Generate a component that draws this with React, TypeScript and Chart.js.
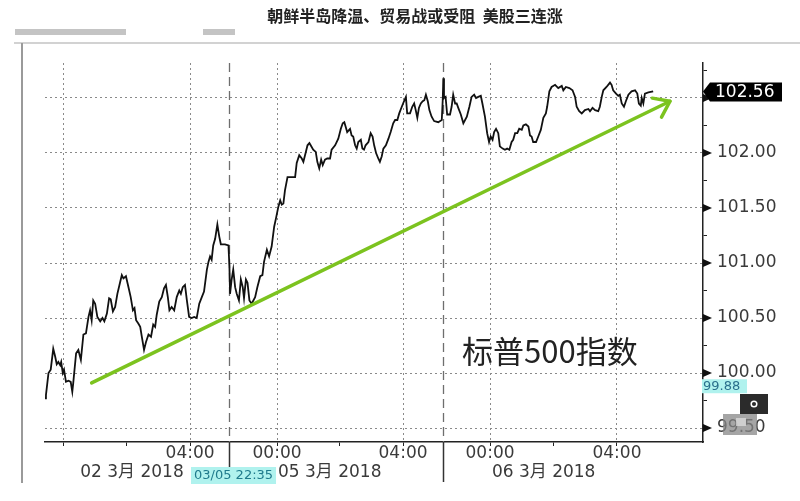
import React, { useEffect, useRef } from "react";
import { Chart, registerables } from "chart.js";

Chart.register(...registerables);

// ---------- text ----------
const TITLE = "朝鲜半岛降温、贸易战或受阻  美股三连涨";
const INDEX_NAME = "标普500指数";
const CURSOR_TIME = "03/05 22:35";

// ---------- data (x = session hours from 02 Mar 00:00, y = index level) ----------
const timesA = [-0.57,-0.54,-0.46,-0.39,-0.31,-0.25,-0.20,-0.15,-0.09,-0.06,-0.01,0.03,0.09,0.17,0.24,0.29,0.32,0.41,0.48,0.56,0.64,0.72,0.80,0.85,0.90,0.95,1.01,1.08,1.17,1.24,1.30,1.38,1.45,1.50,1.57,1.64,1.71,1.80,1.85,1.90,1.98,2.06,2.13,2.20,2.25,2.30,2.37,2.43,2.48,2.55,2.61,2.69,2.77,2.84,2.90,2.95,3.03,3.11,3.18,3.24,3.30,3.35,3.42,3.50,3.58,3.66];
const valuesA = [99.77,99.80,100.00,100.03,100.22,100.15,100.08,100.10,100.07,100.10,100.00,100.03,99.92,99.93,99.92,99.83,99.91,100.18,100.21,100.12,100.35,100.36,100.51,100.57,100.48,100.66,100.63,100.51,100.47,100.50,100.47,100.54,100.68,100.67,100.56,100.60,100.72,100.83,100.89,100.86,100.88,100.78,100.69,100.57,100.59,100.48,100.45,100.42,100.33,100.21,100.28,100.35,100.33,100.44,100.42,100.53,100.65,100.69,100.77,100.80,100.69,100.57,100.60,100.57,100.69,100.75];

const timesB = [3.71,3.77,3.84,3.90,3.97,4.05,4.13,4.21,4.29,4.37,4.44,4.53,4.58,4.63,4.68,4.73,4.79,4.86,4.92,4.97,5.10,5.21,5.24,5.26,5.31,5.36,5.42,5.47,5.54,5.60,5.66,5.70,5.76,5.81,5.87,5.94,6.05,6.12,6.21,6.28,6.33,6.42,6.49,6.57,6.65,6.71,6.78,6.84,6.89,6.94,6.99,7.07,7.17,7.31,7.36,7.44,7.52,7.57,7.64,7.70,7.76];
const valuesB = [100.72,100.78,100.80,100.66,100.51,100.50,100.51,100.50,100.63,100.69,100.74,100.94,101.01,101.06,101.03,101.16,101.22,101.35,101.24,101.17,101.17,101.16,100.97,100.72,100.85,100.94,100.78,100.72,100.66,100.85,100.78,100.68,100.85,100.82,100.66,100.63,100.69,100.78,100.88,100.89,101.01,101.12,101.06,101.15,101.33,101.41,101.51,101.57,101.53,101.54,101.66,101.78,101.78,101.78,101.91,101.98,101.95,101.92,102.00,102.07,102.09];

const timesC = [7.80,7.88,7.96,8.01,8.07,8.13,8.18,8.25,8.32,8.41,8.46,8.57,8.67,8.75,8.81,8.86,8.90,8.95,9.04,9.09,9.14,9.20,9.25,9.30,9.38,9.43,9.48,9.53,9.62,9.69,9.75,9.80,9.86,9.93,9.98,10.04,10.09,10.17,10.25,10.32,10.40,10.46,10.53,10.59,10.67,10.74,10.80,10.84,10.93,11.00,11.06,11.11,11.16,11.21,11.27,11.33,11.38,11.43,11.49,11.54,11.61,11.69,11.82];
const valuesC = [102.07,102.03,102.01,101.92,101.86,101.94,101.89,101.94,101.95,101.95,102.03,102.07,102.13,102.22,102.27,102.28,102.24,102.19,102.22,102.16,102.15,102.07,102.04,102.10,102.12,102.04,102.03,102.07,102.10,102.18,102.15,102.07,102.00,101.95,101.92,101.97,102.04,102.07,102.13,102.19,102.27,102.30,102.30,102.36,102.42,102.47,102.51,102.36,102.36,102.42,102.45,102.39,102.32,102.41,102.45,102.47,102.48,102.53,102.47,102.39,102.33,102.29,102.28];

const timesD = [11.93,11.96,11.98,12.00,12.05,12.10,12.19,12.24,12.29,12.35,12.40,12.45,12.53,12.61,12.72,12.80,12.87,12.95,13.01,13.08,13.16,13.21,13.29,13.36,13.42,13.47,13.53,13.58,13.64,13.71,13.76,13.85,13.92,13.99,14.06,14.13,14.18,14.24,14.31,14.37,14.45,14.50,14.58,14.66,14.71,14.76,14.81,14.90,14.97,15.05,15.13,15.21,15.25,15.32,15.39,15.50,15.60,15.71,15.76,15.84,15.95,16.05,16.13,16.18,16.26,16.34,16.44,16.55,16.60,16.68,16.76,16.86,16.91,16.97,17.02,17.12,17.23,17.28,17.33,17.42,17.49,17.54,17.60,17.67,17.73,17.81,17.91,18.02,18.09,18.14,18.20,18.23,18.28,18.33,18.44,18.59];
const valuesD = [102.30,102.48,102.68,102.50,102.51,102.35,102.35,102.42,102.53,102.45,102.45,102.41,102.35,102.27,102.33,102.42,102.51,102.53,102.50,102.51,102.52,102.45,102.33,102.18,102.10,102.15,102.12,102.19,102.22,102.18,102.06,102.04,102.03,102.04,102.03,102.10,102.12,102.18,102.18,102.22,102.21,102.25,102.26,102.24,102.16,102.15,102.10,102.10,102.15,102.21,102.32,102.36,102.42,102.56,102.60,102.62,102.59,102.61,102.57,102.60,102.59,102.57,102.51,102.42,102.38,102.36,102.39,102.40,102.38,102.41,102.39,102.38,102.42,102.51,102.57,102.60,102.64,102.62,102.57,102.54,102.52,102.53,102.45,102.42,102.47,102.53,102.56,102.57,102.54,102.45,102.43,102.50,102.45,102.54,102.55,102.56];

// trend arrow
const trendTimes = [0.90, 19.12];
const trendValues = [99.91, 102.47];

// axes
const xTickValues = [0, 2, 4, 6.74, 8.72, 10.71, 13.45, 15.45, 17.45];
const xTickLabels = ["", "", "04:00", "00:00", "", "04:00", "00:00", "", "04:00"];
const xGridTicks = [0, 4, 6.74, 10.71, 13.45, 17.45];
const sessionBreaks = [5.24, 11.98];
const dateLabels = ["02 3月 2018", "05 3月 2018", "06 3月 2018"];
const dateLabelAt = [0.54, 6.77, 13.51];
const yTickValues = [99.5, 99.75, 100, 100.25, 100.5, 100.75, 101, 101.25, 101.5, 101.75, 102, 102.25, 102.5, 102.75];
const X_MIN = -0.57, X_MAX = 20.16, Y_MIN = 99.373, Y_MAX = 102.818;
const cursorValue = 99.88;
const cursorTimeAt = 4.03;
const annotationAt = { x: 12.57, y: 100.2 };

const FONT = '"DejaVu Sans", "Noto Sans CJK SC", sans-serif';
const CJK = '"Noto Sans CJK SC", sans-serif';
const TEXT = "#3a3a3a";
const CYAN = "#b0f2ee";

const allTimes = [...timesA, ...timesB, ...timesC, ...timesD];
const allValues = [...valuesA, ...valuesB, ...valuesC, ...valuesD];
const lastValue = allValues[allValues.length - 1];

const isMajor = (v: number) => Math.abs(v * 2 - Math.round(v * 2)) < 1e-6;

const overlay = {
  id: "overlay",
  beforeDatasetsDraw(chart: any) {
    const { ctx, chartArea, scales } = chart;
    const x = scales.x;
    ctx.save();
    sessionBreaks.forEach((b) => {
      const px = Math.round(x.getPixelForValue(b)) + 0.5;
      ctx.strokeStyle = "#6e6e6e";
      ctx.lineWidth = 1.3;
      ctx.setLineDash([9, 5]);
      ctx.beginPath();
      ctx.moveTo(px, chartArea.top);
      ctx.lineTo(px, chartArea.bottom);
      ctx.stroke();
      ctx.setLineDash([]);
      ctx.strokeStyle = "#333";
      ctx.lineWidth = 1.5;
      ctx.beginPath();
      ctx.moveTo(px, chartArea.bottom);
      ctx.lineTo(px, chartArea.bottom + 40);
      ctx.stroke();
    });
    ctx.restore();
  },
  afterDatasetsDraw(chart: any) {
    const { ctx } = chart;
    const meta = chart.getDatasetMeta(0);
    const p0 = meta.data[0], p1 = meta.data[1];
    const ang = Math.atan2(p1.y - p0.y, p1.x - p0.x);
    const len = 18, spread = (36 * Math.PI) / 180;
    ctx.save();
    ctx.strokeStyle = "#7cc31f";
    ctx.lineWidth = 3.5;
    ctx.lineCap = "round";
    ctx.lineJoin = "round";
    ctx.beginPath();
    ctx.moveTo(p1.x - len * Math.cos(ang - spread), p1.y - len * Math.sin(ang - spread));
    ctx.lineTo(p1.x, p1.y);
    ctx.lineTo(p1.x - len * Math.cos(ang + spread), p1.y - len * Math.sin(ang + spread));
    ctx.stroke();
    ctx.restore();
  },
  afterDraw(chart: any) {
    const { ctx, chartArea, scales } = chart;
    const x = scales.x, y = scales.y;
    ctx.save();
    // outer frame
    ctx.strokeStyle = "#d2d2d2";
    ctx.lineWidth = 2;
    ctx.beginPath();
    ctx.moveTo(14, 43);
    ctx.lineTo(800, 43);
    ctx.stroke();
    ctx.strokeStyle = "#9a9a9a";
    ctx.beginPath();
    ctx.moveTo(22, 43);
    ctx.lineTo(22, 483);
    ctx.stroke();
    // faded legend bars
    ctx.fillStyle = "#c4c4c4";
    ctx.fillRect(15, 29, 111, 6);
    ctx.fillRect(203, 29, 32, 6);
    // title
    ctx.fillStyle = "#222";
    ctx.font = `bold 16px ${CJK}`;
    ctx.textAlign = "center";
    ctx.textBaseline = "middle";
    ctx.fillText(TITLE, 415, 16);
    // x labels
    ctx.fillStyle = TEXT;
    ctx.font = `17px ${FONT}`;
    xTickValues.forEach((v, i) => {
      if (!xTickLabels[i]) return;
      ctx.fillText(xTickLabels[i], x.getPixelForValue(v), chartArea.bottom + 12);
    });
    ctx.textAlign = "left";
    dateLabels.forEach((d, i) => {
      ctx.fillText(d, x.getPixelForValue(dateLabelAt[i]), chartArea.bottom + 31);
    });
    // y tick triangles
    ctx.fillStyle = "#111";
    yTickValues.forEach((v) => {
      if (!isMajor(v)) return;
      const py = y.getPixelForValue(v);
      ctx.beginPath();
      ctx.moveTo(chartArea.right, py - 4);
      ctx.lineTo(chartArea.right + 9, py);
      ctx.lineTo(chartArea.right, py + 4);
      ctx.closePath();
      ctx.fill();
    });
    // annotation
    ctx.fillStyle = "#222";
    ctx.font = `31px ${CJK}`;
    ctx.textBaseline = "middle";
    ctx.fillText(INDEX_NAME, x.getPixelForValue(annotationAt.x), y.getPixelForValue(annotationAt.y));
    // last price box
    const py = y.getPixelForValue(lastValue);
    const bx = chartArea.right;
    ctx.fillStyle = "#000";
    ctx.beginPath();
    ctx.moveTo(bx, py);
    ctx.lineTo(bx + 7, py - 9);
    ctx.lineTo(bx + 79, py - 9);
    ctx.lineTo(bx + 79, py + 10);
    ctx.lineTo(bx + 7, py + 10);
    ctx.closePath();
    ctx.fill();
    ctx.fillStyle = "#fff";
    ctx.font = `17px ${FONT}`;
    ctx.fillText(lastValue.toFixed(2), bx + 12, py + 1);
    // cursor value label
    const cy = y.getPixelForValue(cursorValue);
    ctx.fillStyle = CYAN;
    ctx.fillRect(bx - 1, cy - 7, 45, 14);
    ctx.fillStyle = "#2a6f8c";
    ctx.font = `13px ${FONT}`;
    ctx.fillText(cursorValue.toFixed(2), bx, cy);
    // cursor time label
    const cx = x.getPixelForValue(cursorTimeAt);
    ctx.fillStyle = CYAN;
    ctx.fillRect(cx, chartArea.bottom + 25, 85, 17);
    ctx.fillStyle = "#1f7a8c";
    ctx.fillText(CURSOR_TIME, cx + 3, chartArea.bottom + 34);
    // toolbar widgets
    ctx.fillStyle = "#2b2b2b";
    ctx.fillRect(740, 394, 28, 20);
    ctx.strokeStyle = "#fff";
    ctx.lineWidth = 1.5;
    ctx.beginPath();
    ctx.arc(754, 404, 2.8, 0, Math.PI * 2);
    ctx.stroke();
    ctx.fillStyle = "rgba(135,135,135,0.75)";
    ctx.fillRect(723, 414, 34, 21);
    ctx.fillStyle = "rgba(225,225,225,0.7)";
    ctx.fillRect(736, 418, 10, 8);
    ctx.restore();
  },
};

export default function App() {
  const ref = useRef<HTMLCanvasElement>(null);
  useEffect(() => {
    const indexData = allTimes.map((t, i) => ({ x: t, y: allValues[i] }));
    const trendData = trendTimes.map((t, i) => ({ x: t, y: trendValues[i] }));
    const chart = new Chart(ref.current as HTMLCanvasElement, {
      type: "line",
      data: {
        datasets: [
          {
            label: "trend",
            data: trendData,
            borderColor: "#7cc31f",
            borderWidth: 3.5,
            pointRadius: 0,
            borderCapStyle: "round",
          },
          {
            label: INDEX_NAME,
            data: indexData,
            borderColor: "#111",
            borderWidth: 1.8,
            pointRadius: 0,
            tension: 0,
          },
        ],
      },
      options: {
        animation: false,
        responsive: true,
        maintainAspectRatio: false,
        layout: { padding: { left: 45, top: 63, right: 0, bottom: 0 } },
        plugins: { legend: { display: false }, tooltip: { enabled: false }, title: { display: false } },
        scales: {
          x: {
            type: "linear",
            position: "bottom",
            min: X_MIN,
            max: X_MAX,
            afterBuildTicks: (s: any) => {
              s.ticks = xTickValues.map((v) => ({ value: v }));
            },
            afterFit: (s: any) => {
              s.height = 59;
            },
            ticks: { display: false, autoSkip: false },
            grid: {
              color: (c: any) => (c.tick && xGridTicks.includes(c.tick.value) ? "#8a8a8a" : "rgba(0,0,0,0)"),
              lineWidth: 1,
              tickColor: "#222",
              tickLength: 4,
              drawTicks: true,
            },
            border: { display: true, color: "#222", width: 1.5, dash: [2, 3] },
          },
          y: {
            type: "linear",
            position: "right",
            min: Y_MIN,
            max: Y_MAX,
            afterBuildTicks: (s: any) => {
              s.ticks = yTickValues.map((v) => ({ value: v }));
            },
            afterFit: (s: any) => {
              s.width = 97;
            },
            ticks: {
              autoSkip: false,
              padding: 10,
              color: TEXT,
              font: { family: FONT, size: 17 },
              callback: (v: any) => {
                const n = Number(v);
                return isMajor(n) && Math.abs(n - 102.5) > 1e-6 ? n.toFixed(2) : "";
              },
            },
            grid: {
              color: (c: any) => (c.tick && isMajor(c.tick.value) ? "#8a8a8a" : "rgba(0,0,0,0)"),
              lineWidth: 1,
              tickColor: "#222",
              tickLength: 4,
              drawTicks: true,
            },
            border: { display: true, color: "#222", width: 1.5, dash: [2, 3] },
          },
        },
      },
      plugins: [overlay],
    } as any);
    return () => chart.destroy();
  }, []);
  return (
    <div style={{ position: "absolute", left: 0, top: 0, width: 800, height: 501, background: "#fff" }}>
      <canvas ref={ref} />
    </div>
  );
}
